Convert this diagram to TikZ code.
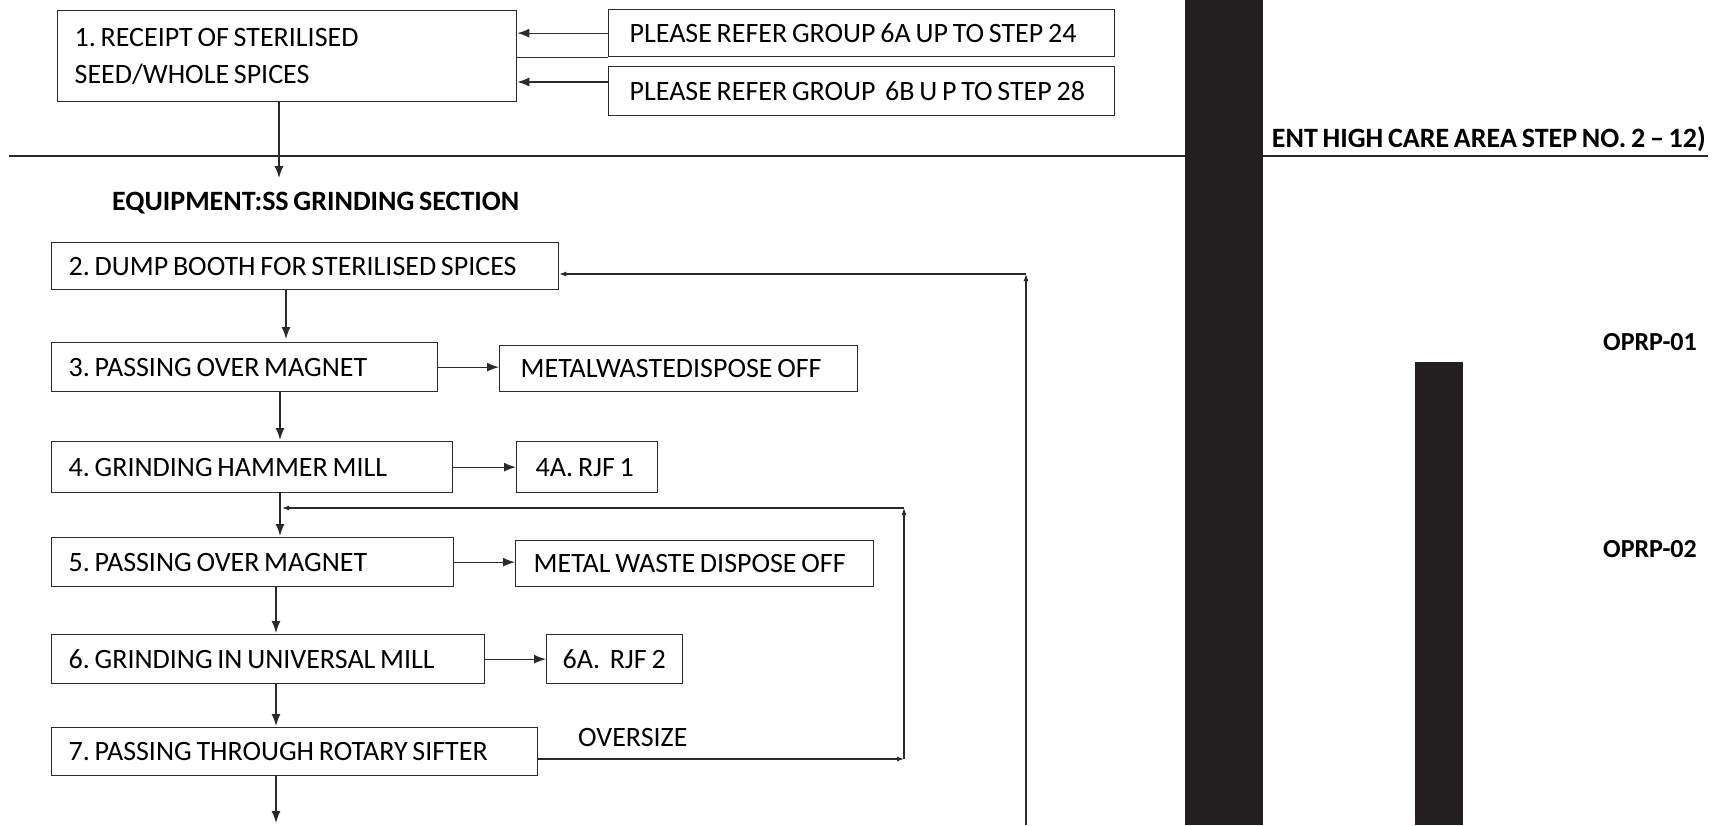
\documentclass[tikz,border=0pt]{standalone}
\usepackage{fontspec}
\setmainfont{Carlito}[WordSpace=0.75]
\usetikzlibrary{arrows.meta}
\definecolor{ink}{HTML}{231F20}
\definecolor{lin}{HTML}{2A2A2A}
\newcommand\bxf{\fontsize{28}{37}\selectfont\frenchspacing}
\newcommand\hdf{\bfseries\fontsize{28}{34}\selectfont\frenchspacing}
\begin{document}
\begin{tikzpicture}[x=1pt,y=-1pt,
  box/.style={draw=lin, line width=1.3pt, anchor=north west, inner ysep=0pt,
    align=flush left, font=\bxf},
  arr/.style={-{Latex[length=12pt,width=9pt]}, line width=1.3pt, draw=lin},
  sarr/.style={-{Latex[length=7pt,width=5pt]}, line width=1.1pt, draw=lin},
  ln/.style={line width=1.3pt, draw=lin},
  hd/.style={font=\hdf, inner sep=0pt},
  bar/.style={fill=ink, draw=none, inner sep=0pt, anchor=north west}]
\useasboundingbox (0,0) rectangle (1712,825);
% right-side bars
\node[bar, minimum width=78pt, minimum height=825pt] (bar1) at (1185,0) {};
\node[bar, minimum width=48pt, minimum height=463pt] (bar2) at (1415,362) {};
% top part
\node[box, inner xsep=17pt, text width=425pt, minimum height=91pt] (b1) at (57,10)
  {1. RECEIPT OF STERILISED\\SEED/WHOLE SPICES};
\node[box, inner xsep=21pt, text width=464pt, minimum height=47pt] (r6a) at (608,9)
  {\rlap{PLEASE REFER GROUP 6A UP TO STEP 24}};
\node[box, inner xsep=21pt, text width=464pt, minimum height=49pt] (r6b) at (608,66)
  {\rlap{PLEASE REFER GROUP \ 6B U P TO STEP 28}};
\coordinate (y6b) at (0,82);
\draw[arr] (r6a.west) -- (b1.east |- r6a.west);
\draw[arr] (r6b.west |- y6b) -- (b1.east |- y6b);
\draw[ln] (b1.east |- r6a.south) -- (r6a.south west);
% separator and heading
\coordinate (sepL) at (9,156);
\draw[ln] (sepL) -- (bar1.west |- sepL);
\node[hd, anchor=base east] (area) at (1706,147) {ENT HIGH CARE AREA STEP NO. 2 – 12)};
\coordinate (ulR) at (1708,156);
\draw[ln] (bar1.east |- ulR) -- (ulR);
\coordinate (t12) at (279,178);
\draw[arr] (b1.south -| t12) -- (t12);
\node[hd, anchor=west] (eq) at (112,203) {EQUIPMENT:SS GRINDING SECTION};
% OPRP labels
\node[hd, font=\bfseries\fontsize{26}{30}\selectfont, anchor=base east] (op1) at (1697,350) {OPRP-01};
\node[hd, font=\bfseries\fontsize{26}{30}\selectfont, anchor=base east] (op2) at (1697,557) {OPRP-02};
% process boxes
\node[box, inner xsep=17pt, text width=473pt, minimum height=47pt] (b2) at (51,242)
  {\rlap{2. DUMP BOOTH FOR STERILISED SPICES}};
\node[box, inner xsep=17pt, text width=352pt, minimum height=49pt] (b3) at (51,342)
  {\rlap{3. PASSING OVER MAGNET}};
\node[box, inner xsep=21pt, text width=316pt, minimum height=46pt] (m1) at (499,345)
  {\rlap{METALWASTEDISPOSE OFF}};
\node[box, inner xsep=17pt, text width=367pt, minimum height=51pt] (b4) at (51,441)
  {\rlap{4. GRINDING HAMMER MILL}};
\node[box, inner xsep=19pt, text width=103pt, minimum height=51pt] (a4) at (516,441)
  {\rlap{4A. RJF 1}};
\node[box, inner xsep=17pt, text width=368pt, minimum height=49pt] (b5) at (51,537)
  {\rlap{5. PASSING OVER MAGNET}};
\node[box, inner xsep=18pt, text width=322pt, minimum height=46pt] (m2) at (515,540)
  {\rlap{METAL WASTE DISPOSE OFF}};
\node[box, inner xsep=17pt, text width=399pt, minimum height=49pt] (b6) at (51,634)
  {\rlap{6. GRINDING IN UNIVERSAL MILL}};
\node[box, inner xsep=16pt, text width=104pt, minimum height=49pt] (a6) at (546,634)
  {\rlap{6A.\ \ RJF 2}};
\node[box, inner xsep=17pt, text width=452pt, minimum height=48pt] (b7) at (51,727)
  {\rlap{7. PASSING THROUGH ROTARY SIFTER}};
% vertical flow
\coordinate (x23) at (286,0);
\coordinate (x34) at (280,0);
\coordinate (x67) at (276,0);
\draw[arr, shorten >=3pt] (b2.south -| x23) -- (b3.north -| x23);
\draw[arr, shorten >=1pt] (b3.south -| x34) -- (b4.north -| x34);
\draw[arr, shorten >=1pt] (b4.south -| x34) -- (b5.north -| x34);
\draw[arr, shorten >=1pt] (b5.south -| x67) -- (b6.north -| x67);
\draw[arr, shorten >=1pt] (b6.south -| x67) -- (b7.north -| x67);
\coordinate (out) at (276,823);
\draw[arr] (b7.south -| out) -- (out);
% side outputs
\draw[arr] (b3.east) -- (m1.west |- b3.east);
\draw[arr] (b4.east) -- (a4.west |- b4.east);
\draw[arr] (b5.east) -- (m2.west |- b5.east);
\draw[arr] (b6.east) -- (a6.west |- b6.east);
% oversize loop
\coordinate (o1) at (904,759);
\coordinate (o2) at (904,508);
\coordinate (j5) at (282,508);
\draw[sarr] (b7.east |- o1) -- (o1);
\draw[sarr] (o1) -- (o2);
\draw[sarr] (o2) -- (j5);
\node[font=\fontsize{28}{30}\selectfont, anchor=base west, inner sep=0pt] (ovs) at (578,746) {OVERSIZE};
% big return loop
\coordinate (r0) at (1026,825);
\coordinate (r1) at (1026,274);
\draw[sarr] (r0) -- (r1);
\draw[sarr] (r1) -- (b2.east |- r1);
\end{tikzpicture}
\end{document}
